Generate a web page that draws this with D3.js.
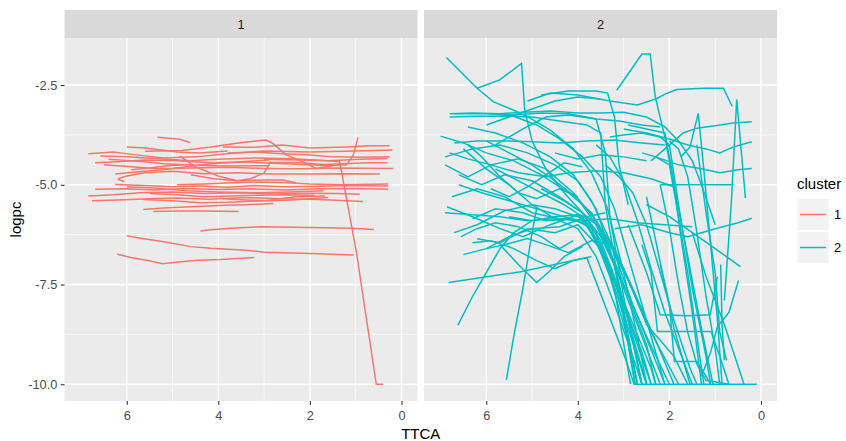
<!DOCTYPE html>
<meta charset="utf-8">
<script src="https://d3js.org/d3.v7.min.js"></script>
<style>
  body { margin: 0; background: #fff; }
  text { font-family: "Liberation Sans", Arial, sans-serif; }
</style>
<div id="chart"></div>

<script>
    // facets / legend
    var clusters = ["1", "2"];
    var colors = ["#F8766D", "#00BFC4"];
    var xTicks = [0, 2, 4, 6];
    var xMinor = [1, 3, 5];
    var yTicks = [-2.5, -5, -7.5, -10];
    var yMinor = [-3.75, -6.25, -8.75];

    // each series: [TTCA, logpc] pairs
    var cluster1 = [
        [[5.33,-3.81],[4.84,-3.86],[4.62,-3.94]],
        [[5.6,-4.16],[4.8,-4.14],[4.2,-4.06],[3.6,-3.96],[3.18,-3.90],[2.96,-3.88],[2.81,-3.96],[2.52,-4.25],[2.16,-4.42],[1.87,-4.59],[1.5,-4.52]],
        [[3.9,-4.05],[3.2,-4.06],[2.6,-4.0],[2.0,-4.08],[1.2,-4.05],[0.7,-4.02],[0.26,-4.02]],
        [[6.84,-4.22],[6.3,-4.18],[5.8,-4.25],[5.2,-4.33],[4.5,-4.30],[3.8,-4.22],[3.0,-4.15],[2.0,-4.18],[1.0,-4.15],[0.2,-4.13]],
        [[6.58,-4.28],[6.0,-4.30],[5.4,-4.34],[4.6,-4.40],[4.0,-4.36],[3.2,-4.33],[2.4,-4.35],[1.6,-4.40],[0.9,-4.36],[0.3,-4.34]],
        [[6.69,-4.45],[6.2,-4.42],[5.6,-4.38],[4.9,-4.40],[4.2,-4.45],[3.4,-4.43],[2.4,-4.48],[1.6,-4.52],[1.2,-4.50],[1.05,-4.25],[0.95,-3.81]],
        [[6.5,-4.50],[5.9,-4.55],[5.3,-4.60],[4.6,-4.58],[3.8,-4.56],[3.0,-4.59],[2.2,-4.60],[1.4,-4.58],[0.18,-4.59]],
        [[6.25,-4.73],[5.8,-4.68],[5.2,-4.62],[4.7,-4.55],[4.2,-4.48],[3.5,-4.42],[2.9,-4.38]],
        [[6.18,-4.84],[6.0,-4.78],[5.6,-4.70],[5.0,-4.66],[4.3,-4.72],[3.6,-4.70],[2.8,-4.73],[2.0,-4.73],[1.2,-4.72],[0.47,-4.73]],
        [[4.84,-4.28],[4.5,-4.55],[4.0,-4.78],[3.6,-4.90],[3.3,-4.85],[3.0,-4.70],[2.85,-4.42]],
        [[4.6,-4.75],[4.1,-4.85],[3.6,-4.90],[3.0,-4.88],[2.6,-4.88],[2.3,-4.95]],
        [[6.25,-4.99],[5.6,-5.02],[5.0,-5.05],[4.4,-5.03],[3.8,-5.06],[3.2,-5.02],[2.6,-5.05],[1.9,-5.04],[1.2,-5.02],[0.29,-5.03]],
        [[6.69,-5.11],[6.0,-5.10],[5.4,-5.13],[4.7,-5.09],[4.0,-5.12],[3.3,-5.10],[2.5,-5.13],[1.8,-5.10],[1.0,-5.09],[0.29,-5.11]],
        [[6.84,-5.28],[6.3,-5.25],[5.7,-5.20],[5.0,-5.18],[4.3,-5.22],[3.5,-5.20],[2.8,-5.23],[2.0,-5.21],[1.4,-5.22],[0.91,-5.24]],
        [[6.76,-5.40],[6.2,-5.38],[5.5,-5.35],[4.9,-5.33],[4.2,-5.36],[3.4,-5.32],[2.6,-5.35],[1.8,-5.37],[0.84,-5.42]],
        [[5.64,-5.37],[5.0,-5.40],[4.4,-5.45],[3.8,-5.44],[3.0,-5.40],[2.3,-5.30],[1.67,-5.28]],
        [[5.64,-5.62],[5.2,-5.58],[4.6,-5.55],[4.0,-5.52],[3.4,-5.50],[2.8,-5.47]],
        [[5.42,-5.67],[4.9,-5.66],[4.3,-5.66],[3.56,-5.67]],
        [[6.0,-5.05],[5.4,-5.08],[4.7,-5.15],[4.0,-5.18],[3.2,-5.20],[2.4,-5.18],[1.7,-5.15]],
        [[5.5,-5.22],[4.9,-5.25],[4.3,-5.30],[3.7,-5.28],[3.1,-5.26],[2.5,-5.25],[1.9,-5.27]],
        [[4.9,-5.00],[4.3,-4.98],[3.7,-4.95],[3.1,-4.93],[2.5,-4.95],[2.0,-4.98],[1.3,-5.00],[0.29,-4.98]],
        [[3.9,-5.35],[3.4,-5.38],[2.9,-5.40],[2.4,-5.38],[1.6,-5.32]],
        [[6.4,-4.36],[6.0,-4.39],[5.6,-4.42],[5.2,-4.47],[4.7,-4.50],[4.2,-4.52],[3.6,-4.53],[2.9,-4.52]],
        [[5.9,-4.62],[5.5,-4.58],[5.1,-4.52],[4.7,-4.49]],
        [[6.2,-4.86],[6.05,-4.92]],
        [[6.0,-4.05],[5.6,-4.08],[5.3,-4.12],[4.9,-4.18],[4.4,-4.20],[3.8,-4.15]],
        [[3.8,-4.20],[3.2,-4.18],[2.6,-4.22],[2.0,-4.25],[1.5,-4.30],[0.8,-4.31],[0.26,-4.30]],
        [[2.9,-4.44],[2.2,-4.45],[1.7,-4.49],[1.3,-4.47],[0.7,-4.45],[0.3,-4.45]],
        [[3.0,-4.36],[2.2,-4.38],[1.6,-4.40],[1.35,-4.42],[0.98,-6.72],[0.55,-10.0],[0.40,-10.0]],
        [[4.39,-6.16],[4.17,-6.13],[3.73,-6.09],[3.04,-6.05],[1.99,-6.07],[1.11,-6.09],[0.60,-6.12]],
        [[6.0,-6.28],[5.7,-6.34],[5.19,-6.43],[4.6,-6.55],[4.17,-6.59],[3.40,-6.64],[3.0,-6.69],[1.99,-6.72],[1.04,-6.76]],
        [[6.21,-6.74],[5.91,-6.82],[5.48,-6.91],[5.22,-6.98],[4.97,-6.95],[4.46,-6.89],[3.95,-6.87],[3.22,-6.82]]
    ];

    var cluster2 = [
        [[7.0,-3.78],[6.5,-3.95],[6.0,-4.2],[5.4,-4.4],[4.8,-4.75],[4.2,-5.2],[3.7,-5.7],[3.3,-6.6],[2.9,-8.4],[2.6,-10]],
        [[6.9,-4.3],[6.3,-4.1],[5.7,-4.0],[5.1,-4.2],[4.5,-4.5],[4.0,-4.9],[3.6,-5.6],[3.2,-7.0],[2.75,-10]],
        [[6.8,-3.3],[6.2,-3.28],[5.6,-3.28],[5.0,-3.3],[4.4,-3.4],[3.8,-3.5],[3.5,-3.7],[3.4,-5.5],[3.1,-7.5],[2.7,-10]],
        [[6.7,-3.22],[6.0,-3.22],[5.4,-3.25],[4.8,-3.2],[4.2,-3.22],[3.6,-3.35],[3.4,-4.2],[3.3,-5.8],[3.0,-7.8],[2.6,-10]],
        [[6.9,-4.5],[6.4,-4.8],[5.9,-4.5],[5.3,-4.35],[4.7,-4.6],[4.1,-5.2],[3.6,-5.9],[3.1,-7.2],[2.5,-9.0],[2.3,-10]],
        [[6.6,-5.0],[6.1,-5.2],[5.5,-5.4],[4.9,-5.6],[4.3,-5.8],[3.8,-6.0],[3.3,-7.0],[2.9,-8.6],[2.5,-10]],
        [[6.75,-5.3],[6.2,-5.1],[5.6,-5.3],[5.0,-5.7],[4.4,-5.85],[3.9,-5.9],[3.5,-6.5],[3.0,-8.0],[2.4,-10]],
        [[6.5,-4.1],[6.0,-4.6],[5.5,-5.0],[5.0,-5.5],[4.5,-5.85],[4.0,-6.1],[3.6,-6.8],[3.2,-8.0],[2.8,-9.3],[2.6,-10]],
        [[6.3,-5.85],[5.8,-5.6],[5.2,-5.7],[4.7,-5.9],[4.1,-5.85],[3.7,-6.1],[3.3,-7.3],[2.9,-8.9],[2.7,-10]],
        [[6.86,-5.55],[6.3,-5.8],[5.7,-6.1],[5.2,-6.3],[4.6,-6.0],[4.0,-5.75],[3.6,-6.2],[3.2,-7.6],[2.85,-10]],
        [[6.2,-6.35],[5.7,-6.45],[5.1,-6.1],[4.5,-6.2],[4.0,-6.0],[3.5,-6.6],[3.1,-7.7],[2.6,-9.2],[2.4,-10]],
        [[6.0,-3.9],[5.5,-4.2],[5.0,-4.5],[4.5,-4.9],[4.0,-5.35],[3.6,-6.0],[3.2,-7.0],[2.7,-8.5],[2.2,-10]],
        [[5.8,-4.6],[5.3,-4.9],[4.8,-5.2],[4.3,-5.5],[3.9,-5.8],[3.4,-6.9],[2.9,-8.2],[2.4,-9.6],[2.3,-10]],
        [[6.4,-3.55],[5.8,-3.7],[5.2,-3.95],[4.6,-4.3],[4.1,-4.75],[3.7,-5.4],[3.3,-6.4],[2.8,-8.0],[2.2,-9.7],[2.1,-10]],
        [[4.8,-5.1],[4.3,-5.4],[3.9,-5.7],[3.5,-6.3],[3.0,-7.5],[2.5,-8.8],[2.0,-10]],
        [[5.5,-5.8],[5.0,-5.9],[4.5,-5.8],[4.0,-5.75],[3.6,-5.9],[3.2,-6.6],[2.8,-7.6],[2.3,-8.9],[1.9,-10]],
        [[6.6,-4.75],[6.1,-5.0],[5.6,-4.75],[5.0,-4.9],[4.4,-5.3],[3.9,-5.7],[3.5,-6.1],[3.0,-7.1],[2.5,-8.5],[1.9,-9.3],[1.6,-10]],
        [[5.9,-3.22],[5.4,-3.28],[4.9,-3.5],[4.4,-3.85],[3.9,-4.3],[3.5,-4.8],[3.2,-5.6],[2.9,-6.8],[2.5,-8.4],[2.1,-10]],
        [[6.87,-1.81],[6.2,-2.58],[5.84,-2.92],[5.4,-3.13],[5.1,-3.29],[4.6,-3.63],[4.1,-4.1],[3.7,-4.7],[3.35,-5.6],[3.0,-7.2],[2.7,-8.8],[2.5,-10]],
        [[6.2,-2.58],[5.71,-2.37],[5.23,-1.96],[5.16,-3.13],[5.0,-3.9],[4.7,-4.6],[4.3,-5.2],[3.9,-5.7],[3.5,-6.4],[3.1,-7.6],[2.8,-8.8],[2.5,-10]],
        [[6.7,-6.2],[6.2,-6.0],[5.6,-5.65],[5.0,-5.5],[4.5,-5.6],[4.0,-5.8],[3.7,-6.0],[3.4,-6.8],[3.0,-8.3],[2.75,-10]],
        [[6.82,-7.45],[5.25,-7.18],[3.87,-6.84],[3.80,-6.84],[2.99,-9.27],[2.77,-10],[0.09,-10]],
        [[6.0,-6.6],[5.6,-6.5],[5.1,-6.35],[4.7,-6.5],[4.2,-6.7],[3.7,-6.4],[3.3,-6.5],[2.9,-7.4],[2.4,-8.7],[1.8,-10]],
        [[3.15,-2.63],[2.6,-1.72],[2.42,-1.72],[2.31,-2.79],[2.1,-3.8],[1.9,-5.0],[1.6,-6.8],[1.3,-8.6],[1.05,-10]],
        [[3.3,-3.8],[3.0,-3.75],[2.6,-3.7],[2.2,-3.8],[2.0,-4.0],[1.8,-5.5],[1.5,-7.6],[1.2,-9.3],[1.1,-10]],
        [[2.9,-3.5],[2.5,-3.6],[2.1,-3.7],[1.95,-4.6],[1.75,-6.3],[1.5,-8.2],[1.3,-10]],
        [[2.6,-4.2],[2.3,-4.3],[2.0,-4.5],[1.8,-5.8],[1.6,-7.2],[1.4,-8.8],[1.25,-10]],
        [[3.4,-4.5],[3.1,-4.8],[2.8,-5.2],[2.5,-6.0],[2.2,-7.2],[1.9,-8.4],[1.55,-9.6],[1.4,-10]],
        [[3.6,-4.0],[3.3,-4.3],[3.0,-4.9],[2.7,-5.9],[2.4,-7.1],[2.1,-8.2],[1.7,-9.4],[1.55,-10]],
        [[1.75,-4.3],[1.55,-4.05],[1.37,-3.21],[1.25,-4.6],[1.1,-6.5],[0.95,-8.4],[0.85,-10]],
        [[0.8,-7.9],[0.65,-5.5],[0.53,-2.86],[0.45,-3.9],[0.34,-5.33]],
        [[2.2,-5.0],[2.0,-6.1],[1.8,-7.5],[1.6,-8.7],[1.4,-9.5],[1.2,-9.9],[0.7,-10]],
        [[2.5,-5.3],[2.3,-6.4],[2.1,-7.5],[1.9,-8.6],[1.7,-9.4],[1.5,-10]],
        [[1.4,-4.0],[1.2,-5.7],[1.0,-7.2],[0.9,-8.7],[0.75,-9.4]],
        [[2.0,-3.9],[1.8,-4.1],[1.6,-4.8],[1.4,-6.2],[1.2,-7.8],[1.0,-9.1],[0.9,-10]],
        [[0.49,-7.4],[0.7,-8.2],[0.95,-8.55],[1.1,-9.2],[1.3,-9.8]],
        [[0.88,-7.0],[0.85,-8.5],[0.8,-9.4]],
        [[1.5,-6.2],[1.2,-7.3],[0.8,-8.5],[0.37,-10]],
        [[2.6,-6.5],[2.4,-7.2],[2.26,-8.68],[1.6,-8.68],[1.09,-8.68],[0.9,-9.3],[0.7,-10]],
        [[2.2,-7.0],[2.0,-8.0],[1.89,-9.43],[1.4,-9.43],[1.2,-9.8],[1.1,-10]],
        [[2.9,-6.0],[2.5,-7.2],[2.2,-8.26],[1.6,-8.28],[1.11,-8.26],[0.95,-7.3]],
        [[5.1,-2.9],[4.6,-2.7],[4.0,-2.75],[3.3,-2.9],[2.7,-3.0],[2.3,-2.85],[2.06,-2.71],[1.84,-2.61],[1.26,-2.58],[0.82,-2.58],[0.63,-3.03]],
        [[4.8,-2.75],[4.2,-2.65],[3.6,-2.65],[3.35,-2.7],[3.2,-3.3],[3.1,-4.5],[2.9,-5.5]],
        [[6.8,-3.22],[6.3,-3.2],[5.7,-3.22],[5.2,-3.18],[4.6,-3.15],[4.0,-3.2],[3.5,-3.2],[3.0,-3.18],[2.5,-3.3],[2.1,-3.55],[1.8,-3.9],[1.5,-4.4],[1.3,-5.0],[1.0,-6.0]],
        [[2.4,-4.4],[2.0,-4.0],[1.7,-3.7],[1.4,-3.58],[1.0,-3.52],[0.6,-3.45],[0.2,-3.42]],
        [[3.0,-3.6],[2.5,-3.7],[2.0,-3.85],[1.6,-4.0],[1.2,-4.1],[0.9,-4.2],[0.6,-4.05],[0.2,-3.92]],
        [[2.3,-4.3],[1.8,-4.5],[1.3,-4.6],[0.9,-4.7],[0.5,-4.62],[0.2,-4.59]],
        [[3.2,-6.1],[2.6,-6.0],[2.0,-6.2],[1.6,-6.3],[1.0,-6.1],[0.5,-5.95],[0.2,-5.84]],
        [[2.5,-5.5],[2.0,-5.8],[1.5,-6.2],[1.0,-6.6],[0.45,-7.05]],
        [[2.2,-5.0],[1.8,-5.0],[1.2,-5.0],[0.6,-5.0]],
        [[6.9,-5.7],[6.3,-5.75],[5.7,-5.8],[5.1,-5.9],[4.5,-5.85],[3.9,-5.9],[3.3,-5.85],[2.7,-5.95],[2.1,-6.0],[1.5,-6.05]],
        [[6.5,-6.75],[6.0,-6.6],[5.5,-6.3],[5.0,-6.1],[4.4,-6.05],[3.8,-5.8],[3.4,-5.7]],
        [[6.3,-6.45],[5.9,-6.4],[5.4,-6.6],[4.9,-6.9],[4.5,-7.1],[4.1,-6.9],[3.7,-6.8]],
        [[5.7,-6.5],[5.3,-7.0],[4.9,-7.45],[4.6,-7.15],[4.3,-6.8],[3.9,-6.55]],
        [[6.62,-8.52],[6.3,-7.8],[6.0,-7.2],[5.7,-6.6],[5.4,-6.2],[5.0,-5.9]],
        [[5.56,-9.89],[5.4,-8.8],[5.2,-7.6],[5.12,-7.05],[5.0,-6.2],[4.9,-5.6]],
        [[6.8,-4.2],[6.4,-4.35],[5.9,-4.5],[5.3,-4.7],[4.7,-4.8],[4.2,-4.7],[3.6,-4.65],[3.0,-4.7],[2.4,-4.85],[1.9,-5.05]],
        [[6.7,-3.95],[6.2,-3.9],[5.6,-3.9],[5.0,-3.92],[4.4,-3.95],[3.8,-3.9],[3.2,-3.88],[2.6,-3.95],[2.1,-4.0]],
        [[6.0,-3.5],[5.5,-3.3],[5.0,-3.1],[4.5,-2.9],[4.0,-2.8],[3.5,-2.85]],
        [[5.8,-4.0],[5.2,-3.6],[4.7,-3.3],[4.2,-3.25],[3.6,-3.35],[3.1,-3.4],[2.6,-3.5],[2.2,-3.55]],
        [[4.5,-4.2],[4.0,-4.35],[3.5,-4.25],[3.0,-4.3],[2.5,-4.4]],
        [[6.4,-4.0],[6.1,-4.3],[5.7,-4.8],[5.3,-5.2],[4.9,-5.35],[4.4,-5.1],[4.0,-5.3]],
        [[5.9,-5.1],[5.5,-5.3],[5.1,-5.05],[4.7,-4.75],[4.3,-4.45],[3.9,-4.55]],
        [[6.55,-6.3],[6.2,-6.1],[5.8,-5.95],[5.3,-6.05],[4.8,-6.3],[4.4,-6.6],[4.1,-6.4]]
    ];

    var series = [cluster1, cluster2];

    var width = 846, height = 441;
    var panelW = 353, panelH = 363, panelTop = 38, stripH = 28;
    var panelLeft = [64.5, 424];

    var x = d3.scaleLinear().domain([7.36, -0.35]).range([0, panelW]);
    var y = d3.scaleLinear().domain([-1.32, -10.42]).range([0, panelH]);

    var line = d3.line()
        .x(function(d) { return x(d[0]); })
        .y(function(d) { return y(d[1]); });

    var svg = d3.select("#chart")
        .append("svg")
            .attr("width", width)
            .attr("height", height);

    svg.append("rect").attr("width", width).attr("height", height).attr("fill", "#fff");

    svg.append("defs").append("clipPath")
        .attr("id", "clip")
        .append("rect")
            .attr("width", panelW)
            .attr("height", panelH);

    clusters.forEach(function(c, i) {
        var g = svg.append("g")
            .attr("transform", "translate(" + panelLeft[i] + "," + panelTop + ")");

        // strip
        g.append("rect")
            .attr("y", -stripH)
            .attr("width", panelW)
            .attr("height", stripH)
            .attr("fill", "#D9D9D9");
        g.append("text")
            .attr("x", panelW / 2)
            .attr("y", -stripH / 2)
            .attr("dy", "0.36em")
            .attr("text-anchor", "middle")
            .attr("fill", "#1A1A1A")
            .style("font-size", "12.8px")
            .text(c);

        g.append("rect")
            .attr("width", panelW)
            .attr("height", panelH)
            .attr("fill", "#EBEBEB");

        // grid
        g.selectAll(".ymin").data(yMinor).enter().append("line")
            .attr("x1", 0).attr("x2", panelW)
            .attr("y1", d => y(d)).attr("y2", d => y(d))
            .attr("stroke", "#fff").attr("stroke-width", 0.7);
        g.selectAll(".xmin").data(xMinor).enter().append("line")
            .attr("y1", 0).attr("y2", panelH)
            .attr("x1", d => x(d)).attr("x2", d => x(d))
            .attr("stroke", "#fff").attr("stroke-width", 0.7);
        g.selectAll(".ymaj").data(yTicks).enter().append("line")
            .attr("x1", 0).attr("x2", panelW)
            .attr("y1", d => y(d)).attr("y2", d => y(d))
            .attr("stroke", "#fff").attr("stroke-width", 1.4);
        g.selectAll(".xmaj").data(xTicks).enter().append("line")
            .attr("y1", 0).attr("y2", panelH)
            .attr("x1", d => x(d)).attr("x2", d => x(d))
            .attr("stroke", "#fff").attr("stroke-width", 1.4);

        // lines
        g.append("g")
            .attr("clip-path", "url(#clip)")
            .selectAll("path")
            .data(series[i])
            .enter().append("path")
                .attr("d", line)
                .attr("fill", "none")
                .attr("stroke", colors[i])
                .attr("stroke-width", 1.5);

        // x axis
        var xa = g.append("g")
            .attr("transform", "translate(0," + panelH + ")")
            .call(d3.axisBottom(x).tickValues(xTicks).tickSize(3.7).tickPadding(6).tickFormat(d3.format("d")));
        xa.select(".domain").remove();
        xa.selectAll("line").attr("stroke", "#333333").attr("stroke-width", 1.1);
        xa.selectAll("text").attr("fill", "#4D4D4D").style("font-size", "12.8px").style("font-family", "Liberation Sans, Arial, sans-serif");

        if (i === 0) {
            var ya = g.append("g")
                .call(d3.axisLeft(y).tickValues(yTicks).tickSize(3.7).tickPadding(3.5).tickFormat(d3.format(".1f")));
            ya.select(".domain").remove();
            ya.selectAll("line").attr("stroke", "#333333").attr("stroke-width", 1.1);
            ya.selectAll("text").attr("fill", "#4D4D4D").style("font-size", "12.8px").style("font-family", "Liberation Sans, Arial, sans-serif")
                .text(d => d3.format(".1f")(d).replace("\u2212", "-"));
        }
    });

    // axis titles
    svg.append("text")
        .attr("x", (panelLeft[0] + panelLeft[1] + panelW) / 2)
        .attr("y", 439)
        .attr("text-anchor", "middle")
        .style("font-size", "15px")
        .text("TTCA");

    svg.append("text")
        .attr("transform", "translate(21," + (panelTop + panelH / 2) + ") rotate(-90)")
        .attr("text-anchor", "middle")
        .style("font-size", "15px")
        .text("logpc");

    // legend
    var legend = svg.append("g").attr("transform", "translate(797,0)");
    legend.append("text")
        .attr("x", 0)
        .attr("y", 189)
        .style("font-size", "15px")
        .text("cluster");

    var keys = legend.selectAll(".key")
        .data(clusters)
        .enter().append("g")
            .attr("transform", (d, i) => "translate(0," + (198.5 + i * 33) + ")");
    keys.append("rect")
        .attr("width", 32)
        .attr("height", 32)
        .attr("fill", "#F2F2F2")
        .attr("stroke", "#fff")
        .attr("stroke-width", 1);
    keys.append("line")
        .attr("x1", 3).attr("x2", 29)
        .attr("y1", 16).attr("y2", 16)
        .attr("stroke", (d, i) => colors[i])
        .attr("stroke-width", 1.5);
    keys.append("text")
        .attr("x", 37)
        .attr("y", 16)
        .attr("dy", "0.36em")
        .style("font-size", "12.8px")
        .text(d => d);
</script>
